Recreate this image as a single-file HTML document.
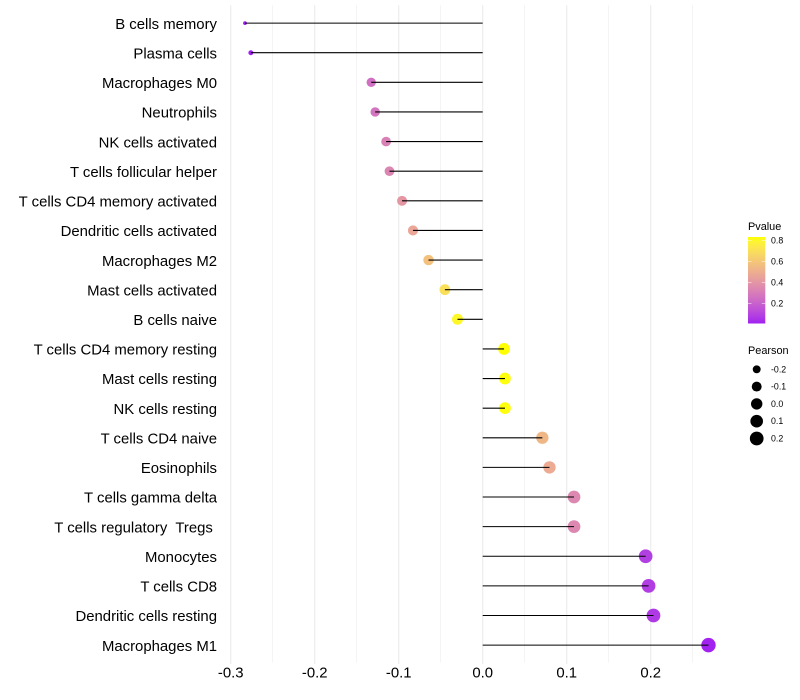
<!DOCTYPE html>
<html>
<head>
<meta charset="utf-8">
<style>
html,body{margin:0;padding:0;background:#fff;}
svg{display:block;}
text{font-family:"Liberation Sans",sans-serif;}
</style>
</head>
<body>
<svg id="chart" width="800" height="700" viewBox="0 0 800 700" xmlns="http://www.w3.org/2000/svg"></svg>
<script>
const categories = ["B cells memory","Plasma cells","Macrophages M0","Neutrophils","NK cells activated","T cells follicular helper","T cells CD4 memory activated","Dendritic cells activated","Macrophages M2","Mast cells activated","B cells naive","T cells CD4 memory resting","Mast cells resting","NK cells resting","T cells CD4 naive","Eosinophils","T cells gamma delta","T cells regulatory  Tregs ","Monocytes","T cells CD8","Dendritic cells resting","Macrophages M1"];
const pearsonValues = [-0.283,-0.276,-0.1327,-0.128,-0.115,-0.111,-0.096,-0.083,-0.0645,-0.045,-0.03,0.0254,0.0265,0.0265,0.071,0.0795,0.1087,0.1087,0.194,0.1975,0.2033,0.2688];
const pValues = [0.01,0.012,0.25,0.27,0.31,0.33,0.4,0.46,0.57,0.69,0.79,0.82,0.815,0.815,0.53,0.48,0.34,0.34,0.085,0.08,0.07,0.016];
const xTicks = [-0.3,-0.2,-0.1,0,0.1,0.2];
const xTickLabels = ["-0.3","-0.2","-0.1","0.0","0.1","0.2"];
const xMinorTicks = [-0.25,-0.15,-0.05,0.05,0.15,0.25];
const pLegendTicks = [0.2,0.4,0.6,0.8];
const pLegendLabels = ["0.2","0.4","0.6","0.8"];
const sizeLegendValues = [-0.2,-0.1,0,0.1,0.2];
const sizeLegendLabels = ["-0.2","-0.1","0.0","0.1","0.2"];

const NS = "http://www.w3.org/2000/svg";
const svg = document.getElementById("chart");
function add(tag, attrs, parent){
  const el = document.createElementNS(NS, tag);
  for (const k in attrs) el.setAttribute(k, attrs[k]);
  (parent || svg).appendChild(el);
  return el;
}
const xScale = v => 482.7 + v * 840;
const yScale = i => 23.1 + i * 29.62;
/* area-style size scale over the data range */
const sizeMin = Math.min(...pearsonValues), sizeMax = Math.max(...pearsonValues);
const rScale = v => {
  const t = Math.max(0, (v - sizeMin) / (sizeMax - sizeMin));
  return 1.9 + 5.3 * Math.sqrt(t);
};
const pYScale = p => 324.5 - (p * 105.2);

/* colour scale: purple to yellow interpolated in Lab */
function rgb2lab(c){
  let [r,g,b] = c.map(v=>{v/=255;return v>0.04045?Math.pow((v+0.055)/1.055,2.4):v/12.92;});
  let x=(r*0.4124+g*0.3576+b*0.1805)/0.95047,y=r*0.2126+g*0.7152+b*0.0722,z=(r*0.0193+g*0.1192+b*0.9505)/1.08883;
  const f=t=>t>0.008856?Math.cbrt(t):7.787*t+16/116;
  return [116*f(y)-16,500*(f(x)-f(y)),200*(f(y)-f(z))];
}
function lab2rgb(l){
  const fy=(l[0]+16)/116,fx=l[1]/500+fy,fz=fy-l[2]/200;
  const g=t=>t*t*t>0.008856?t*t*t:(t-16/116)/7.787;
  const x=g(fx)*0.95047,y=g(fy),z=g(fz)*1.08883;
  const lin=[x*3.2406-y*1.5372-z*0.4986,-x*0.9689+y*1.8758+z*0.0415,x*0.0557-y*0.204+z*1.057];
  const out=lin.map(v=>{v=Math.max(0,Math.min(1,v));v=v>0.0031308?1.055*Math.pow(v,1/2.4)-0.055:12.92*v;return Math.round(v*255);});
  return "rgb("+out.join(",")+")";
}
const lowLab = rgb2lab([160,32,240]), highLab = rgb2lab([255,255,0]);
const pMin = 0.01, pMax = 0.82;
function colorOf(p){
  const t = Math.max(0, Math.min(1, (p - pMin) / (pMax - pMin)));
  return lab2rgb(lowLab.map((v,i)=>v+(highLab[i]-v)*t));
}

/* grid */
const grid = add("g", {});


xMinorTicks.forEach(v=>{
  const l = add("line", {x1:xScale(v),x2:xScale(v),y1:5.2,y2:662.5,stroke:"#ebebeb","stroke-width":0.55}, grid);
  
  
});
xTicks.forEach(v=>{
  const l = add("line", {x1:xScale(v),x2:xScale(v),y1:5.2,y2:664,stroke:"#ebebeb","stroke-width":1.07}, grid);
  
  
});

/* points */
categories.forEach((c,i)=>{
  const d = add("circle", {cx:xScale(pearsonValues[i]),cy:yScale(i),r:rScale(pearsonValues[i]),fill:colorOf(pValues[i])});
  
  
});
/* stems */
categories.forEach((c,i)=>{
  const l = add("line", {x1:xScale(0),x2:xScale(pearsonValues[i]),y1:yScale(i),y2:yScale(i),stroke:"#000","stroke-width":1.07});
  
  
});
/* category labels */
categories.forEach((c,i)=>{
  const t = add("text", {x:217,y:yScale(i)+5.7,"text-anchor":"end","font-size":14.9,fill:"#000"});
  t.style.whiteSpace = "pre";
  t.textContent = c;
  
  
});
/* x tick labels */
xTicks.forEach((v,i)=>{
  const t = add("text", {x:xScale(v),y:677.7,"text-anchor":"middle","font-size":14.9,fill:"#000"});
  t.textContent = xTickLabels[i];
  
  
});

/* colour legend */
const defs = add("defs", {});
const grad = add("linearGradient", {id:"pgrad",x1:0,y1:1,x2:0,y2:0}, defs);
for (let s = 0; s <= 20; s++){
  add("stop", {offset:s/20,"stop-color":colorOf(pMin+(pMax-pMin)*s/20)}, grad);
}
const pTitle = add("text", {x:748,y:230,"font-size":10.9,fill:"#000"});
pTitle.textContent = "Pvalue";


const bar = add("rect", {x:748,y:237,width:17.3,height:86.5,fill:"url(#pgrad)"});


pLegendTicks.forEach((p,i)=>{
  const y = pYScale(p);
  const a = add("line", {x1:748,x2:751.5,y1:y,y2:y,stroke:"#fff","stroke-width":0.5});
  
  
  const b = add("line", {x1:761.8,x2:765.3,y1:y,y2:y,stroke:"#fff","stroke-width":0.5});
  
  
  const t = add("text", {x:771,y:y+3,"font-size":8.8,fill:"#000"});
  t.textContent = pLegendLabels[i];
  
  
});

/* size legend */
const sTitle = add("text", {x:748,y:354,"font-size":10.9,fill:"#000"});
sTitle.textContent = "Pearson";


sizeLegendValues.forEach((v,i)=>{
  const y = 369.3 + i * 17.3;
  const c = add("circle", {cx:756.7,cy:y,r:rScale(v),fill:"#000"});
  
  
  const t = add("text", {x:771,y:y+3,"font-size":8.8,fill:"#000"});
  t.textContent = sizeLegendLabels[i];
  
  
});
</script>
</body>
</html>
